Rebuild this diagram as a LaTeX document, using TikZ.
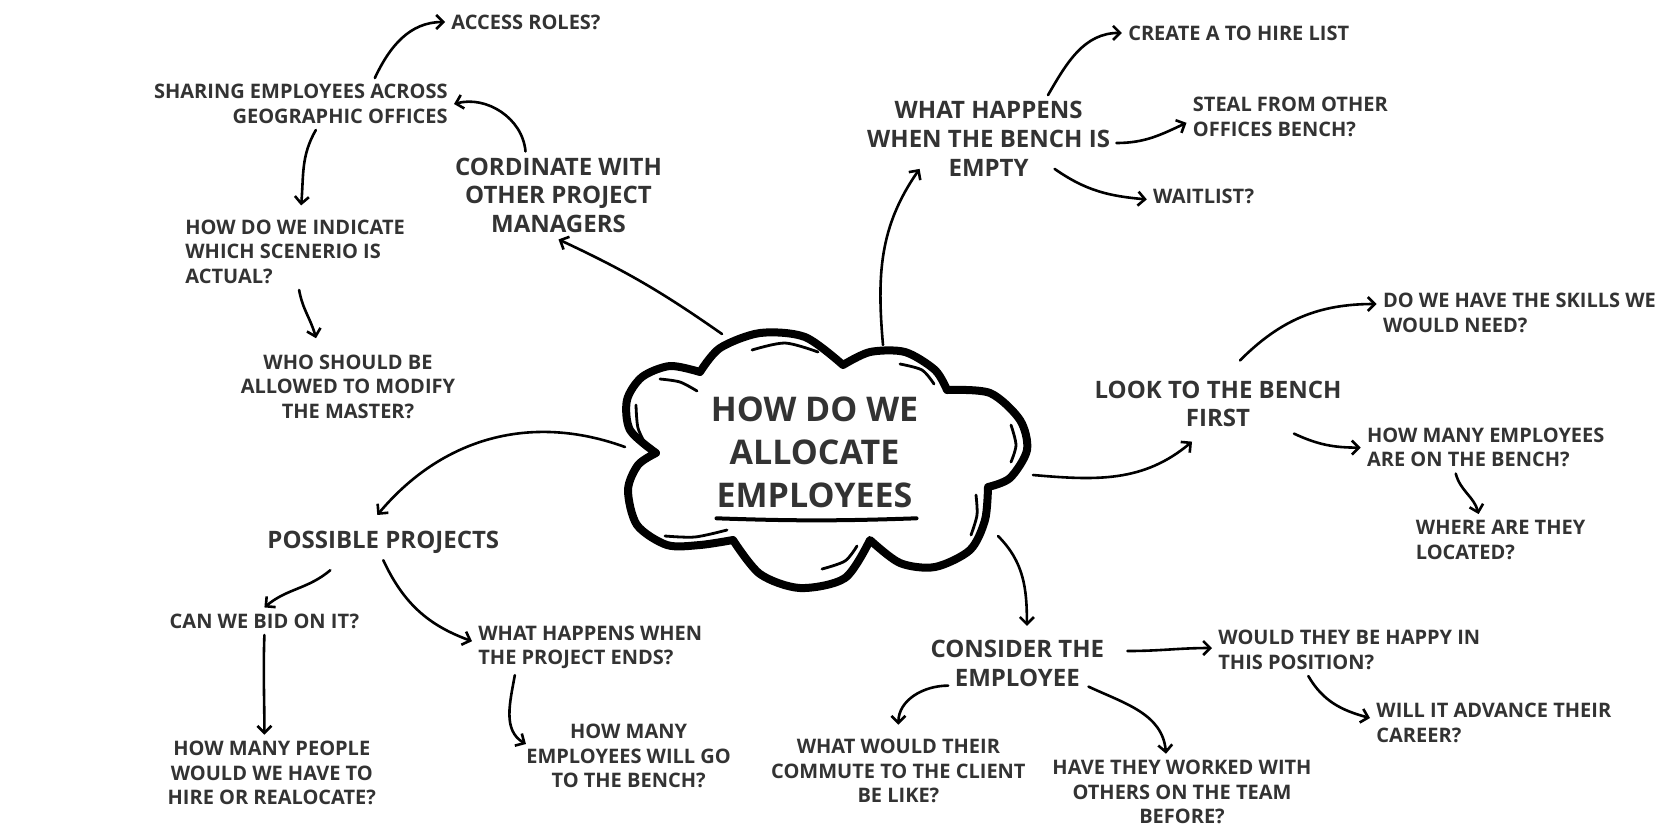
\documentclass[tikz,border=0pt]{standalone}
\usepackage{fontspec}
\setmainfont{Open Sans}
\usetikzlibrary{arrows.meta}
\definecolor{ink}{HTML}{333333}

\begin{document}
\begin{tikzpicture}[x=0.5pt, y=0.5pt,
    leaf/.style={font=\fontsize{10}{12.25}\selectfont\bfseries, text=ink, align=center, inner sep=3pt},
    topic/.style={font=\fontsize{12}{14.4}\selectfont\bfseries, text=ink, align=center, inner sep=3pt},
    core/.style={font=\fontsize{17}{21.5}\selectfont\bfseries, text=ink, align=center, inner sep=3pt},
    link/.style={-{Straight Barb[length=3.5pt,width=7pt]}, line width=1.3pt, line cap=round},
    puff/.style={line width=4pt, line join=round},
    shine/.style={line width=1.4pt, line cap=round},
  ]
  \fill[white] (0,0) rectangle (1665,-832);
  \useasboundingbox (0,0) rectangle (1665,-832);

  \draw[puff] plot[smooth] coordinates {(656,-453) (630,-430) (627,-400) (642,-377) (670,-366) (700,-372)}
    -- plot[smooth] coordinates {(700,-372) (720,-348) (760,-333) (805,-337) (843,-365)}
    -- plot[smooth] coordinates {(843,-365) (870,-352) (905,-352) (935,-370) (947,-390)}
    -- plot[smooth] coordinates {(947,-390) (990,-393) (1020,-420) (1027,-450) (1010,-478) (988,-487)}
    -- plot[smooth] coordinates {(988,-487) (985,-520) (970,-550) (935,-567) (900,-563) (870,-540)}
    -- plot[smooth] coordinates {(870,-540) (845,-578) (800,-588) (760,-574) (733,-540)}
    -- plot[smooth] coordinates {(733,-540) (700,-545) (667,-545) (637,-525) (628,-490) (638,-465) (656,-453)}
    -- cycle;
  \draw[shine] plot[smooth] coordinates {(752,-350) (785,-343) (818,-352)};
  \draw[shine] plot[smooth] coordinates {(900,-364) (922,-370) (934,-384)};
  \draw[shine] plot[smooth] coordinates {(660,-379) (680,-382) (697,-391)};
  \draw[shine] plot[smooth] coordinates {(636,-405) (638,-428) (647,-447)};
  \draw[shine] plot[smooth] coordinates {(1011,-425) (1016,-445) (1011,-462)};
  \draw[shine] plot[smooth] coordinates {(665,-536) (695,-537) (727,-530)};
  \draw[shine] plot[smooth] coordinates {(822,-569) (845,-561) (857,-546)};
  \draw[shine] plot[smooth] coordinates {(976,-495) (977,-515) (971,-535)};

  \node[core] (core) at (814.5,-452.4) {HOW DO WE\\ALLOCATE\\EMPLOYEES};
  \draw[line width=2pt, line cap=round] ([xshift=-49pt,yshift=-2pt]core.south) to[bend right=2] ([xshift=51pt,yshift=-2pt]core.south);

  \node[leaf] (roles) at (526,-22) {ACCESS ROLES?};
  \node[leaf, anchor=east, align=right] (share) at (454,-104) {SHARING EMPLOYEES ACROSS\\GEOGRAPHIC OFFICES};
  \node[topic] (coord) at (558.5,-195.4) {CORDINATE WITH\\OTHER PROJECT\\MANAGERS};
  \node[leaf, anchor=west, align=left] (indic) at (179,-251.7) {HOW DO WE INDICATE\\WHICH SCENERIO IS\\ACTUAL?};
  \node[leaf] (who) at (348,-386.5) {WHO SHOULD BE\\ALLOWED TO MODIFY\\THE MASTER?};
  \node[topic] (empty) at (988.6,-139) {WHAT HAPPENS\\WHEN THE BENCH IS\\EMPTY};
  \node[leaf] (create) at (1238.7,-32.9) {CREATE A TO HIRE LIST};
  \node[leaf, anchor=west, align=left] (steal) at (1186.5,-116.8) {STEAL FROM OTHER\\OFFICES BENCH?};
  \node[leaf] (wait) at (1203.7,-196.4) {WAITLIST?};
  \node[topic] (look) at (1218,-404) {LOOK TO THE BENCH\\FIRST};
  \node[leaf, anchor=west, align=left] (skills) at (1376.6,-313) {DO WE HAVE THE SKILLS WE\\WOULD NEED?};
  \node[leaf, anchor=west, align=left] (count) at (1360.7,-447.6) {HOW MANY EMPLOYEES\\ARE ON THE BENCH?};
  \node[leaf, anchor=west, align=left] (where) at (1409.5,-540) {WHERE ARE THEY\\LOCATED?};
  \node[topic] (consider) at (1017.3,-663) {CONSIDER THE\\EMPLOYEE};
  \node[leaf, anchor=west, align=left] (happy) at (1212,-650) {WOULD THEY BE HAPPY IN\\THIS POSITION?};
  \node[leaf, anchor=west, align=left] (advance) at (1370,-723) {WILL IT ADVANCE THEIR\\CAREER?};
  \node[leaf] (commute) at (898.4,-771) {WHAT WOULD THEIR\\COMMUTE TO THE CLIENT\\BE LIKE?};
  \node[leaf] (worked) at (1182,-792) {HAVE THEY WORKED WITH\\OTHERS ON THE TEAM\\BEFORE?};
  \node[topic] (proj) at (383.3,-542.6) {POSSIBLE PROJECTS};
  \node[leaf] (bid) at (264.4,-621.2) {CAN WE BID ON IT?};
  \node[leaf] (people) at (271.8,-773) {HOW MANY PEOPLE\\WOULD WE HAVE TO\\HIRE OR REALOCATE?};
  \node[leaf, anchor=west, align=left] (ends) at (472,-647.2) {WHAT HAPPENS WHEN\\THE PROJECT ENDS?};
  \node[leaf] (gobench) at (628.6,-756) {HOW MANY\\EMPLOYEES WILL GO\\TO THE BENCH?};

  \coordinate (ca) at (722,-334);
  \coordinate (cb) at (625,-447);
  \coordinate (cc) at (883,-345);
  \coordinate (cd) at (1033,-475);
  \coordinate (ce) at (998,-536);

  \draw[link] (ca) to[out=145,in=-25] (coord.south);
  \draw[link] ([xshift=-16.5pt]coord.north) to[out=95,in=15] (share.east);
  \draw[link] ([xshift=37pt]share.north) to[out=65,in=180] (roles.west);
  \draw[link] ([xshift=7.5pt]share.south) to[out=-120,in=85] ([xshift=3pt,yshift=4pt]indic.north);
  \draw[link] ([xshift=2pt]indic.south) to[out=-80,in=105] ([xshift=-16pt,yshift=5pt]who.north);

  \draw[link] (cb) to[out=160,in=50] ([xshift=-3pt,yshift=5pt]proj.north);
  \draw[link] ([xshift=-26.5pt,yshift=-5pt]proj.south) to[out=-140,in=40] (bid.north);
  \draw[link] (bid.south) to[out=-92,in=90] ([xshift=-3.7pt]people.north);
  \draw[link] (proj.south) to[out=-65,in=160] ([yshift=3pt]ends.west);
  \draw[link] ([xshift=-37.75pt]ends.south) to[out=-100,in=150] ([xshift=3pt,yshift=6pt]gobench.west);

  \draw[link] (cc) to[out=95,in=235] ([xshift=-34.5pt,yshift=7pt]empty.south);
  \draw[link] ([xshift=29.7pt]empty.north) to[out=60,in=180] (create.west);
  \draw[link] ([yshift=-2pt]empty.east) to[out=0,in=205] ([yshift=-3pt]steal.west);
  \draw[link] ([xshift=33pt,yshift=7pt]empty.south) to[out=-35,in=175] ([yshift=-1.5pt]wait.west);

  \draw[link] (cd) to[out=-5,in=220] ([xshift=-13pt,yshift=-4pt]look.south);
  \draw[link] ([xshift=11pt,yshift=7pt]look.north) to[out=45,in=180] ([yshift=4.5pt]skills.west);
  \draw[link] ([xshift=38pt]look.south) to[out=-25,in=180] (count.west);
  \draw[link] ([xshift=-15pt]count.south) to[out=-75,in=105] ([xshift=-11pt]where.north);

  \draw[link] (ce) to[out=-45,in=90] ([xshift=4.8pt,yshift=3.75pt]consider.north);
  \draw[link] ([xshift=8.5pt,yshift=6pt]consider.east) to[out=0,in=180] ([yshift=1pt]happy.west);
  \draw[link] ([xshift=-20.5pt]happy.south) to[out=-60,in=165] ([yshift=2.5pt]advance.west);
  \draw[link] ([xshift=12pt,yshift=3.5pt]consider.south west) to[out=180,in=90] ([yshift=4pt]commute.north);
  \draw[link] ([xshift=-11pt,yshift=3pt]consider.south east) to[out=-25,in=95] ([xshift=-8pt]worked.north);
\end{tikzpicture}
\end{document}
